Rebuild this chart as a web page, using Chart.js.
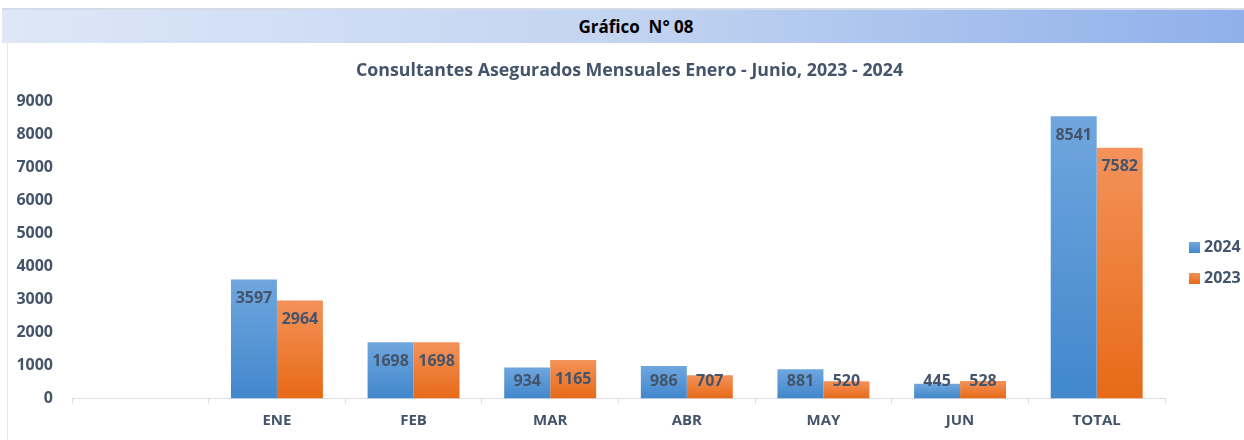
<!DOCTYPE html>
<html>
<head>
<meta charset="utf-8">
<script src="https://cdn.jsdelivr.net/npm/chart.js@4.4.1/dist/chart.umd.min.js"></script>
<style>
  html, body { margin: 0; padding: 0; background: #ffffff; width: 1244px; height: 440px; overflow: hidden; }
  #topline { position: absolute; left: 2px; top: 8px; width: 1242px; height: 2px; background: #d3dbe8; }
  #header { position: absolute; left: 2px; top: 10px; width: 1242px; height: 33px; box-sizing: border-box; padding-left: 26px;
    background: linear-gradient(to right, #dde7f7 0%, #c3d4f1 50%, #8fb0ea 100%);
    font-family: "Open Sans", Lato, sans-serif; font-weight: bold; font-size: 17px; color: #000;
    display: flex; align-items: center; justify-content: center; white-space: pre; }
  #leftline { position: absolute; left: 7px; top: 43px; width: 1px; height: 397px; background: #e3e6ec; }
  #wrap { position: absolute; left: 0; top: 43px; width: 1244px; height: 397px; }
</style>
</head>
<body>
<div id="topline"></div>
<div id="header">Gráfico  N° 08</div>
<div id="leftline"></div>
<div id="wrap"><canvas id="c" width="1244" height="397"></canvas></div>
<script>
const chartTitle = "Consultantes Asegurados Mensuales Enero - Junio, 2023 - 2024";
const categories = ["", "ENE", "FEB", "MAR", "ABR", "MAY", "JUN", "TOTAL"];
const seriesNames = ["2024", "2023"];
const values2024 = [null, 3597, 1698, 934, 986, 881, 445, 8541];
const values2023 = [null, 2964, 1698, 1165, 707, 520, 528, 7582];
const yTicks = [0, 1000, 2000, 3000, 4000, 5000, 6000, 7000, 8000, 9000];

const TEXT = "#44546a";
const FONT = "'Open Sans', Lato, sans-serif";
const palette = [
  { top: "#6fa6de", bottom: "#4287cc" },
  { top: "#f4925a", bottom: "#e76a17" }
];

function barGradient(ctx, dsIndex) {
  const chart = ctx.chart;
  const area = chart.chartArea;
  if (!area) return palette[dsIndex].bottom;
  const y = chart.scales.y;
  const v = ctx.raw;
  if (v === null || v === undefined) return palette[dsIndex].bottom;
  const t = y.getPixelForValue(v);
  const b = y.getPixelForValue(0);
  const g = chart.ctx.createLinearGradient(0, t, 0, b + 0.01);
  g.addColorStop(0, palette[dsIndex].top);
  g.addColorStop(1, palette[dsIndex].bottom);
  return g;
}

const labelPlugin = {
  id: "barLabels",
  afterDatasetsDraw(chart) {
    const c = chart.ctx;
    c.save();
    c.font = "bold 16px " + FONT;
    c.fillStyle = TEXT;
    c.textAlign = "center";
    c.textBaseline = "middle";
    chart.data.datasets.forEach((ds, i) => {
      const meta = chart.getDatasetMeta(i);
      meta.data.forEach((el, j) => {
        const v = ds.data[j];
        if (v === null || v === undefined) return;
        const y = Math.min(el.y + 19, el.base - 17);
        c.fillText(String(v), el.x, y);
      });
    });
    c.restore();
  }
};

const legendPlugin = {
  id: "sideLegend",
  afterDraw(chart) {
    const c = chart.ctx;
    const area = chart.chartArea;
    c.save();
    c.font = "bold 16px " + FONT;
    c.textAlign = "left";
    c.textBaseline = "middle";
    chart.data.datasets.forEach((ds, i) => {
      const bx = area.right + 24;
      const by = 199 + i * 31;
      const g = c.createLinearGradient(0, by, 0, by + 11);
      g.addColorStop(0, palette[i].top);
      g.addColorStop(1, palette[i].bottom);
      c.fillStyle = g;
      c.fillRect(bx, by, 11, 11);
      c.fillStyle = TEXT;
      c.fillText(ds.label, bx + 15, by + 5.5);
    });
    c.restore();
  }
};

new Chart(document.getElementById("c"), {
  type: "bar",
  data: {
    labels: categories,
    datasets: [
      { label: seriesNames[0], data: values2024, backgroundColor: (ctx) => barGradient(ctx, 0) },
      { label: seriesNames[1], data: values2023, backgroundColor: (ctx) => barGradient(ctx, 1) }
    ]
  },
  options: {
    responsive: false,
    animation: false,
    devicePixelRatio: 1,
    layout: { padding: { left: 15, right: 0, top: 0, bottom: 0 } },
    datasets: { bar: { barPercentage: 1.0, categoryPercentage: 0.673 } },
    plugins: {
      legend: { display: false },
      tooltip: { enabled: false },
      title: {
        display: true,
        text: chartTitle,
        color: TEXT,
        font: { family: FONT, size: 17.8, weight: "bold" },
        padding: { top: 17, bottom: 19.6 }
      }
    },
    scales: {
      x: {
        grid: { display: true, drawOnChartArea: false, drawTicks: true, tickLength: 5, color: "#d9dde6", offset: true },
        border: { display: true, color: "#d9dde6", width: 1 },
        ticks: { color: TEXT, font: { family: FONT, size: 15, weight: "bold" }, padding: 8, maxRotation: 0 },
        afterFit: (s) => { s.height = 41.5; }
      },
      y: {
        min: 0,
        max: 9000,
        afterBuildTicks: (s) => { s.ticks = yTicks.map(v => ({ value: v })); },
        grid: { display: false, drawTicks: false },
        border: { display: false },
        ticks: { color: TEXT, font: { family: FONT, size: 16, weight: "bold" }, padding: 19, callback: (v) => String(v) },
        afterFit: (s) => { s.width = 57; }
      },
      legendSpace: {
        type: "linear",
        position: "right",
        display: true,
        grid: { display: false, drawTicks: false },
        border: { display: false },
        ticks: { display: false },
        afterFit: (s) => { s.width = 79; }
      }
    }
  },
  plugins: [labelPlugin, legendPlugin]
});
</script>
</body>
</html>
